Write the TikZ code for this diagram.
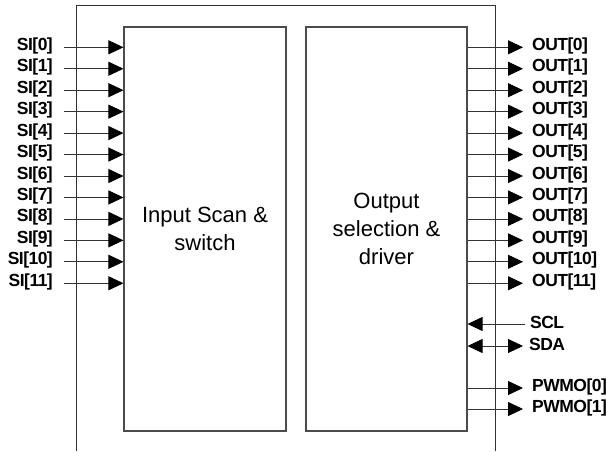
\documentclass[tikz,border=0pt]{standalone}
\usepackage{fontspec}
\setmainfont{Liberation Sans}
\newfontfamily\pinfont[LetterSpace=-3]{Liberation Sans}
\usetikzlibrary{arrows.meta}
\begin{document}
\begin{tikzpicture}[x=1pt,y=-1pt,
  blk/.style={draw=black!70, line width=1.1pt, inner sep=0pt,
    font=\fontsize{22}{28}\selectfont, align=center},
  sig/.style={draw=black!80, line width=0.8pt},
  head/.tip={Triangle[length=15pt,width=14pt,color=black]},
  tip/.style={-head},
  duotip/.style={head-head},
  pin/.style={font=\pinfont\bfseries\fontsize{17.5}{17.5}\selectfont, inner sep=0pt, yshift=1.5pt}]
\useasboundingbox (0,0) rectangle (606,451);

% chip outline, open at the bottom
\draw[black!80, line width=1pt] (76,451) -- (76,5) -- (495,5) -- (495,451);

% functional blocks
\node[blk, minimum width=162pt, minimum height=404pt] (scan) at (205,229)
  {Input Scan \&\\switch};
\node[blk, minimum width=161pt, minimum height=404pt] (drv) at (386.5,229)
  {Output\\selection \&\\driver};

% switch inputs and driver outputs
\foreach \i in {0,...,11}{
  \pgfmathsetmacro\yy{47.3+21.45*\i}
  \coordinate (sia\i) at (64,\yy);
  \node[pin, anchor=east] (si\i) at (53,\yy) {SI[\i]};
  \draw[sig,tip] (sia\i) -- (sia\i -| scan.west);
  \coordinate (outa\i) at (523,\yy);
  \node[pin, anchor=west] (out\i) at (532,\yy) {OUT[\i]};
  \draw[sig,tip] (outa\i -| drv.east) -- (outa\i);
}

% serial interface
\coordinate (scla) at (525,324);
\node[pin, anchor=west] (scl) at (530,324) {SCL};
\draw[sig,tip] (scla) -- (scla -| drv.east);
\coordinate (sdaa) at (523,346);
\node[pin, anchor=west] (sda) at (529,346) {SDA};
\draw[sig,duotip] (sdaa -| drv.east) -- (sdaa);

% PWM outputs
\foreach \i/\yy in {0/388,1/409}{
  \coordinate (pwa\i) at (523,\yy);
  \node[pin, anchor=west] (pw\i) at (532,\yy) {PWMO[\i]};
  \draw[sig,tip] (pwa\i -| drv.east) -- (pwa\i);
}
\end{tikzpicture}
\end{document}
